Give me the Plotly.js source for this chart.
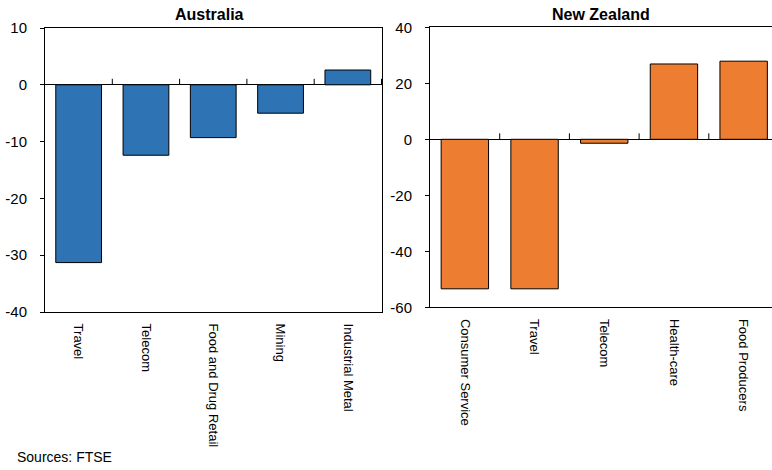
<!DOCTYPE html>
<html>
<head>
<meta charset="utf-8">
<script src="https://cdn.plot.ly/plotly-3.0.1.min.js"></script>
<style>
html, body { margin: 0; padding: 0; overflow: hidden; background: #fff; }
#chart { width: 779px; height: 470px; }
</style>
</head>
<body>
<div id="chart"></div>
<script>
// Data
const auCategories = ["Travel", "Telecom", "Food and Drug Retail", "Mining", "Industrial Metal"];
const auValues = [-31.3, -12.4, -9.3, -5.0, 2.6];
const nzCategories = ["Consumer Service", "Travel", "Telecom", "Health-care", "Food Producers"];
const nzValues = [-53.4, -53.4, -1.4, 26.9, 27.9];
const auTicks = [-40, -30, -20, -10, 0, 10];
const nzTicks = [-60, -40, -20, 0, 20, 40];
const auTitle = "Australia";
const nzTitle = "New Zealand";
const sourceText = "Sources: FTSE";

const W = 779, H = 470;
const FONT = "'Liberation Sans', Arial, sans-serif";

const traces = [
  {
    type: "bar", x: auCategories, y: auValues, xaxis: "x", yaxis: "y",
    marker: { color: "#2E74B5", line: { color: "#000", width: 1 } },
    hoverinfo: "x+y", showlegend: false
  },
  {
    type: "bar", x: nzCategories, y: nzValues, xaxis: "x2", yaxis: "y2",
    marker: { color: "#ED7D31", line: { color: "#000", width: 1 } },
    hoverinfo: "x+y", showlegend: false
  }
];

const xCommon = {
  type: "category", showline: true, mirror: true, linecolor: "#000", linewidth: 1,
  ticks: "", tickangle: 90, showgrid: false, zeroline: false,
  tickfont: { family: FONT, size: 13, color: "#000" }, ticklabelstandoff: 8
};
const yCommon = {
  showline: true, mirror: true, linecolor: "#000", linewidth: 1,
  ticks: "outside", ticklen: 4, tickcolor: "#000", tickwidth: 1,
  showgrid: false, zeroline: true, zerolinecolor: "#000", zerolinewidth: 1,
  tickfont: { family: FONT, size: 15, color: "#000" }, ticklabelstandoff: 10,
  tickmode: "array"
};

function boundaryTicks(cats, xref, yref) {
  const out = [];
  for (let i = 0; i < cats.length; i++) {
    out.push({
      type: "line", xref: xref, yref: yref, x0: i + 0.5, x1: i + 0.5,
      ysizemode: "pixel", yanchor: 0, y0: 0, y1: 6,
      line: { color: "#000", width: 1 }
    });
  }
  return out;
}
const label = v => String(v); // plain hyphen minus, as in the reference

const layout = {
  width: W, height: H,
  margin: { l: 0, r: 0, t: 0, b: 0 },
  paper_bgcolor: "#fff", plot_bgcolor: "#fff",
  font: { family: FONT, color: "#000" },
  bargap: 0.32,
  xaxis: Object.assign({}, xCommon, { domain: [45 / W, 382 / W], anchor: "y" }),
  yaxis: Object.assign({}, yCommon, { domain: [(H - 312) / H, (H - 28) / H], range: [-40, 10],
    tickvals: auTicks, ticktext: auTicks.map(label), anchor: "x" }),
  xaxis2: Object.assign({}, xCommon, { domain: [430 / W, 1], anchor: "y2" }),
  yaxis2: Object.assign({}, yCommon, { domain: [(H - 307.3) / H, (H - 27.3) / H], range: [-60, 40],
    tickvals: nzTicks, ticktext: nzTicks.map(label), anchor: "x2" }),
  shapes: boundaryTicks(auCategories, "x", "y").concat(boundaryTicks(nzCategories, "x2", "y2")),
  annotations: [
    { text: "<b>" + auTitle + "</b>", xref: "paper", yref: "paper", x: 209 / W, y: (H - 15) / H,
      xanchor: "center", yanchor: "middle", showarrow: false, font: { family: FONT, size: 16, color: "#000" } },
    { text: "<b>" + nzTitle + "</b>", xref: "paper", yref: "paper", x: 601 / W, y: (H - 15) / H,
      xanchor: "center", yanchor: "middle", showarrow: false, font: { family: FONT, size: 16, color: "#000" } },
    { text: sourceText, xref: "paper", yref: "paper", x: 15 / W, y: (H - 457) / H,
      xanchor: "left", yanchor: "middle", showarrow: false, font: { family: FONT, size: 14, color: "#000" } }
  ]
};

Plotly.newPlot("chart", traces, layout, { displayModeBar: false, staticPlot: true });
</script>
</body>
</html>
